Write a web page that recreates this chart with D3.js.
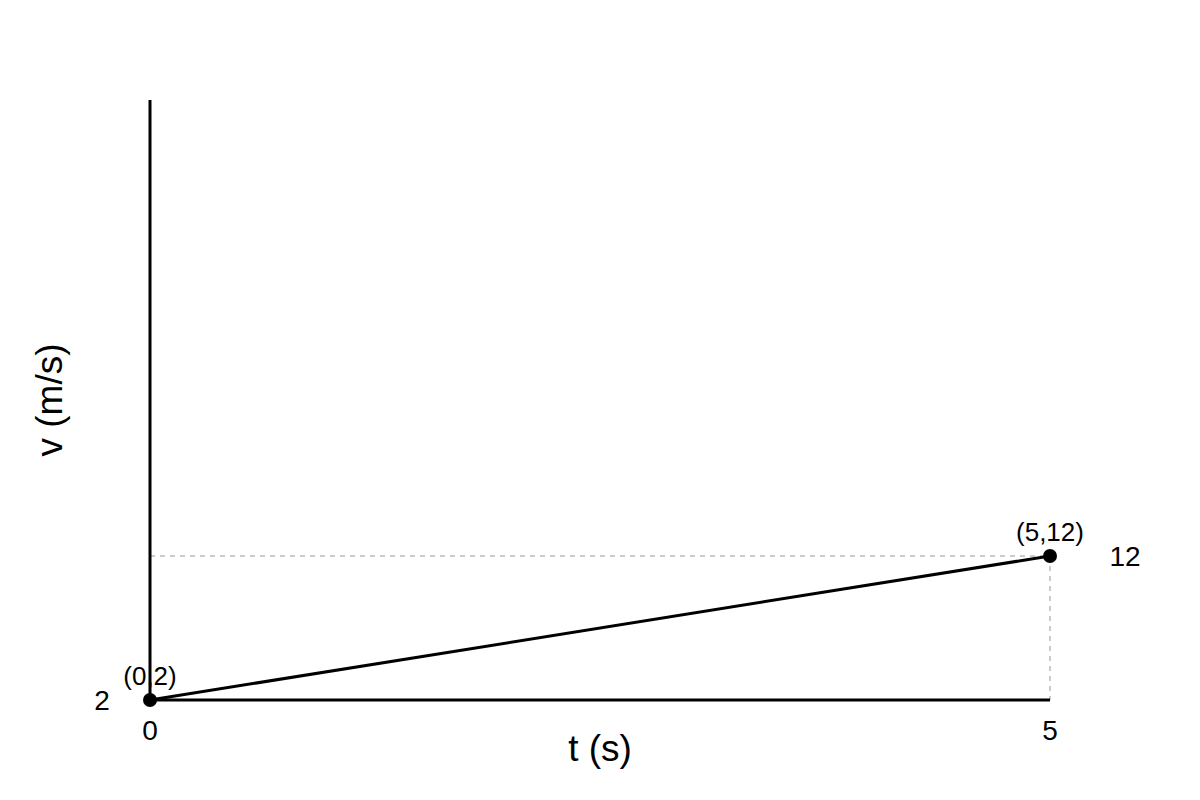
<!DOCTYPE html>
<html>
<head>
<meta charset="utf-8">
<script src="https://cdn.jsdelivr.net/npm/d3@7"></script>
<style>
  body { margin: 0; background: #fff; }
  svg { font-family: "Liberation Sans", Arial, sans-serif; }
</style>
</head>
<body>
<div id="chart"></div>
<script>
// 数据
const times = [0, 5];
const speeds = [2, 12];
const pointLabels = ['(0,2)', '(5,12)'];
const xTickLabels = ['0', '5'];
const yTickLabels = ['2', '12'];

const width = 1200;
const height = 800;
const margin = { top: 100, right: 150, bottom: 100, left: 150 };

const svg = d3.select('#chart')
  .append('svg')
  .attr('width', width)
  .attr('height', height);

// 比例尺
const xScale = d3.scaleLinear()
  .domain([0, 5])
  .range([margin.left, width - margin.right]);

const plotBottom = height - margin.bottom;
const yScale = d3.scaleLinear()
  .domain([2, 12])
  .range([plotBottom, plotBottom - 144]);

const pts = times.map((t, i) => ({ t, v: speeds[i], label: pointLabels[i] }));

// 虚线参考线
const last = pts[pts.length - 1];
svg.append('line')
  .attr('x1', xScale(0)).attr('x2', xScale(last.t))
  .attr('y1', yScale(last.v)).attr('y2', yScale(last.v))
  .attr('stroke', '#bbb').attr('stroke-width', 1.5)
  .attr('stroke-dasharray', '5,5');
svg.append('line')
  .attr('x1', xScale(last.t)).attr('x2', xScale(last.t))
  .attr('y1', yScale(last.v)).attr('y2', yScale(speeds[0]))
  .attr('stroke', '#bbb').attr('stroke-width', 1.5)
  .attr('stroke-dasharray', '5,5');

// 坐标轴
svg.append('line')
  .attr('x1', xScale(0)).attr('x2', xScale(5))
  .attr('y1', plotBottom).attr('y2', plotBottom)
  .attr('stroke', '#000').attr('stroke-width', 3);
svg.append('line')
  .attr('x1', xScale(0)).attr('x2', xScale(0))
  .attr('y1', margin.top).attr('y2', plotBottom)
  .attr('stroke', '#000').attr('stroke-width', 3);

// 刻度标签
svg.selectAll('.x-tick')
  .data(times)
  .enter()
  .append('text')
  .attr('class', 'x-tick')
  .attr('x', d => xScale(d))
  .attr('y', plotBottom + 40)
  .attr('text-anchor', 'middle')
  .style('font-size', '28px')
  .text((d, i) => xTickLabels[i]);

svg.append('text')
  .attr('x', xScale(0) - 48)
  .attr('y', yScale(speeds[0]))
  .attr('dy', '0.35em')
  .attr('text-anchor', 'middle')
  .style('font-size', '28px')
  .text(yTickLabels[0]);

svg.append('text')
  .attr('x', xScale(5) + 75)
  .attr('y', yScale(speeds[1]))
  .attr('dy', '0.35em')
  .attr('text-anchor', 'middle')
  .style('font-size', '28px')
  .text(yTickLabels[1]);

// 轴标签
svg.append('text')
  .attr('x', (xScale(0) + xScale(5)) / 2)
  .attr('y', plotBottom + 61)
  .attr('text-anchor', 'middle')
  .style('font-size', '37px')
  .text('t (s)');

svg.append('text')
  .attr('transform', `translate(62, ${(margin.top + plotBottom) / 2}) rotate(-90)`)
  .attr('text-anchor', 'middle')
  .style('font-size', '37px')
  .text('v (m/s)');

// 折线
const line = d3.line()
  .x(d => xScale(d.t))
  .y(d => yScale(d.v));

svg.append('path')
  .datum(pts)
  .attr('d', line)
  .attr('fill', 'none')
  .attr('stroke', '#000')
  .attr('stroke-width', 3);

// 点标签
svg.selectAll('.pt-label')
  .data(pts)
  .enter()
  .append('text')
  .attr('class', 'pt-label')
  .attr('x', d => xScale(d.t))
  .attr('y', d => yScale(d.v) - 15)
  .attr('text-anchor', 'middle')
  .style('font-size', '26px')
  .text(d => d.label);

// 数据点
svg.selectAll('.dot')
  .data(pts)
  .enter()
  .append('circle')
  .attr('class', 'dot')
  .attr('cx', d => xScale(d.t))
  .attr('cy', d => yScale(d.v))
  .attr('r', 7)
  .attr('fill', '#000');
</script>
</body>
</html>
